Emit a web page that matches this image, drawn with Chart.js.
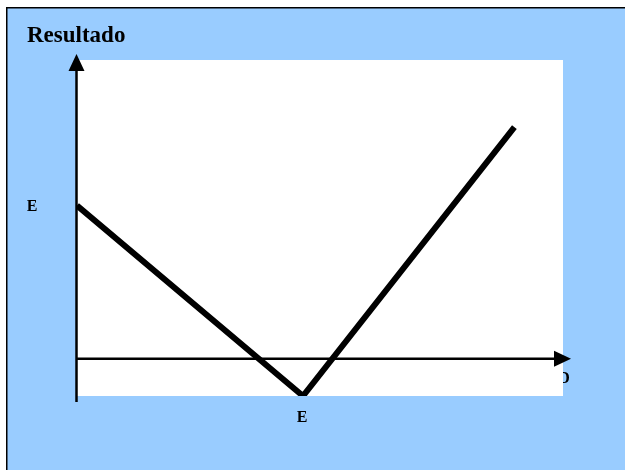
<!DOCTYPE html>
<html>
<head>
<meta charset="utf-8">
<script src="https://cdn.jsdelivr.net/npm/chart.js@4"></script>
<style>
html,body{margin:0;padding:0;background:#fff;}
canvas{display:block;}
</style>
</head>
<body>
<canvas id="c" width="625" height="470"></canvas>
<script>
// Data
const xValues = [0, 4.65, 9.0];
const resultado = [4.1, -1, 6.2];
const titleText = "Resultado";
const yMarkLabel = "E";
const xMarkLabel = "E";
const xAxisLabel = "D";

const points = xValues.map((x, i) => ({x: x, y: resultado[i]}));

const BLUE = '#99CCFF';

const decor = {
  id: 'decor',
  beforeDraw(chart) {
    const ctx = chart.ctx;
    const a = chart.chartArea;
    ctx.save();
    ctx.fillStyle = '#fff';
    ctx.fillRect(0, 0, chart.width, chart.height);
    ctx.fillStyle = '#000';
    ctx.fillRect(6, 7, chart.width, chart.height);
    ctx.fillStyle = BLUE;
    ctx.fillRect(7.5, 8.5, chart.width, chart.height);
    // title
    ctx.fillStyle = '#000';
    ctx.font = 'bold 23px "Liberation Serif", "Times New Roman", serif';
    ctx.textBaseline = 'alphabetic';
    ctx.textAlign = 'left';
    ctx.fillText(titleText, 27, 42);
    // axis label partially hidden by plot area
    ctx.font = 'bold 16px "Liberation Serif", "Times New Roman", serif';
    ctx.textAlign = 'center';
    ctx.textBaseline = 'middle';
    ctx.fillText(xAxisLabel, 564, 379);
    // plot area
    ctx.fillStyle = '#fff';
    ctx.fillRect(a.left, a.top, a.right - a.left, a.bottom - a.top);
    ctx.restore();
  },
  afterDraw(chart) {
    const ctx = chart.ctx;
    const xs = chart.scales.x, ys = chart.scales.y;
    const x0 = xs.getPixelForValue(0) - 0.5;
    const y0 = ys.getPixelForValue(0);
    ctx.save();
    ctx.strokeStyle = '#000';
    ctx.fillStyle = '#000';
    ctx.lineWidth = 2.5;
    // y axis
    ctx.beginPath();
    ctx.moveTo(x0, chart.chartArea.bottom + 6);
    ctx.lineTo(x0, 68);
    ctx.stroke();
    ctx.beginPath();
    ctx.moveTo(x0, 54);
    ctx.lineTo(x0 - 8, 71);
    ctx.lineTo(x0 + 8, 71);
    ctx.closePath();
    ctx.fill();
    // x axis
    ctx.beginPath();
    ctx.moveTo(x0, y0);
    ctx.lineTo(557, y0);
    ctx.stroke();
    ctx.beginPath();
    ctx.moveTo(571, y0);
    ctx.lineTo(554, y0 - 8);
    ctx.lineTo(554, y0 + 8);
    ctx.closePath();
    ctx.fill();
    // labels
    ctx.font = 'bold 16px "Liberation Serif", "Times New Roman", serif';
    ctx.textAlign = 'center';
    ctx.textBaseline = 'middle';
    ctx.fillText(yMarkLabel, 32, ys.getPixelForValue(resultado[0]) + 1);
    ctx.fillText(xMarkLabel, xs.getPixelForValue(xValues[1]) - 1, 418);
    ctx.restore();
  }
};

new Chart(document.getElementById('c'), {
  type: 'line',
  data: {
    datasets: [{
      data: points,
      borderColor: '#000',
      borderWidth: 6,
      pointRadius: 0,
      tension: 0,
      fill: false,
      clip: 0
    }]
  },
  options: {
    responsive: false,
    animation: false,
    devicePixelRatio: 1,
    layout: { padding: { left: 77, top: 60, right: 62, bottom: 74 } },
    plugins: { legend: { display: false }, tooltip: { enabled: false }, title: { display: false } },
    scales: {
      x: { type: 'linear', min: 0, max: 10, display: false },
      y: { type: 'linear', min: -1, max: 8, display: false }
    }
  },
  plugins: [decor]
});
</script>
</body>
</html>
